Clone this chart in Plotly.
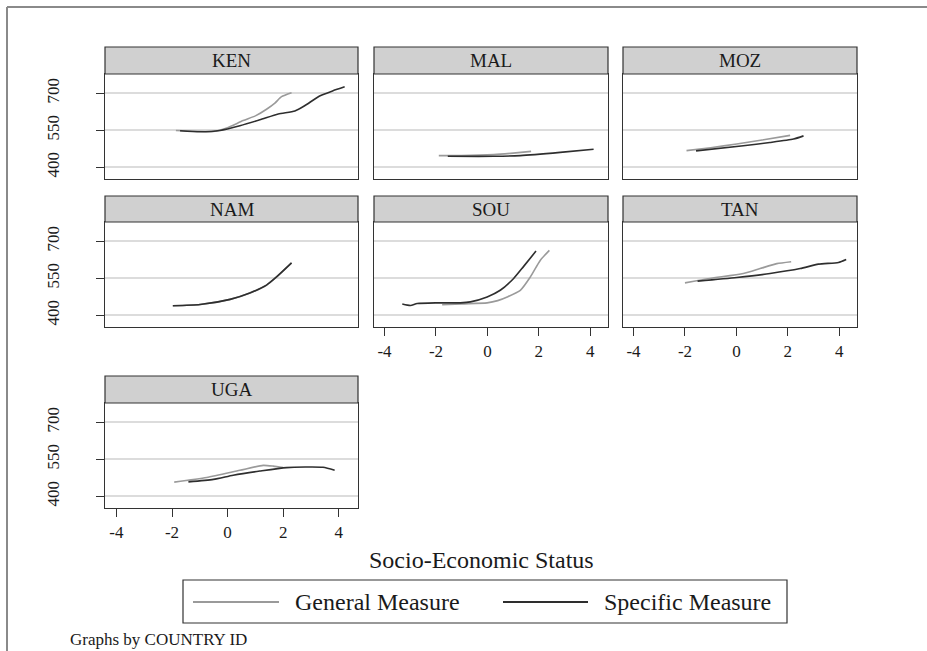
import plotly.graph_objects as go

W, H = 927, 651
FONT = "Liberation Serif"

countries = ["KEN", "MAL", "MOZ", "NAM", "SOU", "TAN", "UGA"]
series_names = ["General Measure", "Specific Measure"]
series_colors = ["#9a9a9a", "#2e2e2e"]

x_tick_vals = [-4, -2, 0, 2, 4]
x_tick_text = ["-4", "-2", "0", "2", "4"]
y_tick_vals = [400, 550, 700]
y_tick_text = ["400", "550", "700"]

# General measure (gray) per country
gen_x = {
    "KEN": [-1.86, -1.2, -0.51, -0.03, 0.56, 1.0, 1.40, 1.70, 1.94, 2.30],
    "MAL": [-1.89, -1.0, 0.25, 1.0, 1.70],
    "MOZ": [-1.94, -1.0, 0.01, 1.0, 2.09],
    "NAM": [-1.97, -0.99, 0.09, 0.80, 1.40, 1.76, 2.30],
    "SOU": [-1.76, -1.0, -0.01, 0.40, 0.77, 1.28, 1.67, 2.06, 2.41],
    "TAN": [-2.00, -1.03, 0.27, 0.92, 1.57, 2.13],
    "UGA": [-1.92, -0.75, 0.44, 1.28, 1.64, 2.00],
}
gen_y = {
    "KEN": [549, 546, 545, 559, 589, 608, 635, 660, 686, 702],
    "MAL": [447, 447, 451, 457, 464],
    "MOZ": [467, 479, 494, 510, 529],
    "NAM": [438, 443, 464, 490, 522, 555, 612],
    "SOU": [442, 446, 450, 459, 474, 501, 555, 623, 663],
    "TAN": [531, 549, 569, 589, 609, 617],
    "UGA": [457, 476, 505, 525, 522, 516],
}

# Specific measure (dark) per country
spec_x = {
    "KEN": [-1.71, -0.99, -0.27, 0.44, 1.16, 1.82, 2.42, 2.77, 3.31, 3.79, 4.21],
    "MAL": [-1.54, 0.25, 1.28, 2.83, 4.13],
    "MOZ": [-1.57, 0.27, 1.30, 2.22, 2.61],
    "NAM": [-1.97, -0.99, 0.09, 0.80, 1.40, 1.76, 2.30],
    "SOU": [-3.31, -2.99, -2.73, -1.95, -1.05, -0.66, -0.01, 0.50, 1.02, 1.41, 1.89],
    "TAN": [-1.51, 0.01, 1.31, 2.48, 3.19, 3.97, 4.27],
    "UGA": [-1.41, -0.51, 0.20, 1.16, 2.12, 3.43, 3.85],
}
spec_y = {
    "KEN": [548, 544, 549, 568, 592, 616, 628, 649, 689, 710, 726],
    "MAL": [444, 444, 447, 460, 473],
    "MOZ": [466, 487, 500, 514, 527],
    "NAM": [438, 443, 464, 490, 522, 555, 612],
    "SOU": [445, 439, 447, 450, 450, 454, 474, 501, 549, 598, 660],
    "TAN": [538, 553, 569, 589, 607, 614, 626],
    "UGA": [458, 468, 485, 502, 516, 517, 505],
}

x_range = [-4.41, 4.69]
y_range = [352, 778]

# panel geometry (pixels)
cols_px = [(105, 358), (374, 608), (623, 857)]
plot_rows_px = [(74, 179), (222, 327), (403, 508)]
head_rows_px = [(47, 74), (196, 222), (376, 403)]
panel_pos = {"KEN": (0, 0), "MAL": (0, 1), "MOZ": (0, 2),
             "NAM": (1, 0), "SOU": (1, 1), "TAN": (1, 2), "UGA": (2, 0)}
with_x_labels = {"SOU", "TAN", "UGA"}


def px_x(p):
    return p / W


def px_y(p):
    return 1 - p / H


fig = go.Figure()
layout = dict(
    width=W, height=H,
    margin=dict(l=0, r=0, t=0, b=0),
    paper_bgcolor="white", plot_bgcolor="white",
    showlegend=False,
    font=dict(family=FONT, size=17, color="#1a1a1a"),
)
shapes = []
annotations = []

for i, c in enumerate(countries):
    k = i + 1
    r, col = panel_pos[c]
    x0, x1 = cols_px[col]
    y0, y1 = plot_rows_px[r]
    hy0, hy1 = head_rows_px[r]
    xa = "x" if k == 1 else f"x{k}"
    ya = "y" if k == 1 else f"y{k}"
    show_x = c in with_x_labels
    show_y = col == 0
    layout["xaxis" if k == 1 else f"xaxis{k}"] = dict(
        domain=[px_x(x0), px_x(x1)], anchor=ya, range=x_range,
        showgrid=False, zeroline=False,
        showline=True, mirror=True, linecolor="#333333", linewidth=1.2,
        tickvals=x_tick_vals, ticktext=x_tick_text,
        ticks="outside" if show_x else "", ticklen=8, tickcolor="#333333",
        showticklabels=show_x, tickfont=dict(family=FONT, size=17, color="#1a1a1a"),
    )
    layout["yaxis" if k == 1 else f"yaxis{k}"] = dict(
        domain=[px_y(y1), px_y(y0)], anchor=xa, range=y_range,
        showgrid=True, gridcolor="#dcdcdc", gridwidth=1.6, zeroline=False,
        showline=True, mirror=True, linecolor="#333333", linewidth=1.2,
        tickvals=y_tick_vals, ticktext=y_tick_text,
        ticks="outside" if show_y else "", ticklen=8, tickcolor="#333333",
        showticklabels=show_y, tickangle=-90, ticklabelstandoff=30,
        tickfont=dict(family=FONT, size=17, color="#1a1a1a"),
    )
    for name, color, xs, ys in [
        (series_names[0], series_colors[0], gen_x[c], gen_y[c]),
        (series_names[1], series_colors[1], spec_x[c], spec_y[c]),
    ]:
        fig.add_trace(go.Scatter(
            x=xs, y=ys, mode="lines", name=name, xaxis=xa, yaxis=ya,
            line=dict(color=color, width=1.6, shape="spline", smoothing=0.6),
            showlegend=False,
        ))
    # header strip
    shapes.append(dict(type="rect", xref="paper", yref="paper",
                       x0=px_x(x0), x1=px_x(x1), y0=px_y(hy1), y1=px_y(hy0),
                       fillcolor="#d0d0d0", line=dict(color="#333333", width=1.2),
                       layer="above"))
    annotations.append(dict(text=c, xref="paper", yref="paper",
                            x=px_x((x0 + x1) / 2), y=px_y((hy0 + hy1) / 2),
                            xanchor="center", yanchor="middle", showarrow=False,
                            font=dict(family=FONT, size=19, color="#1a1a1a")))

# outer frame (top and left only)
shapes.append(dict(type="line", xref="paper", yref="paper",
                   x0=px_x(7), x1=1, y0=px_y(7), y1=px_y(7),
                   line=dict(color="#8a8a8a", width=2)))
shapes.append(dict(type="line", xref="paper", yref="paper",
                   x0=px_x(7), x1=px_x(7), y0=px_y(7), y1=0,
                   line=dict(color="#8a8a8a", width=2)))

# x axis title
annotations.append(dict(text="Socio-Economic Status", xref="paper", yref="paper",
                        x=px_x(481), y=px_y(560), xanchor="center", yanchor="middle",
                        showarrow=False, font=dict(family=FONT, size=24, color="#1a1a1a")))

# legend (box, keys, labels)
shapes.append(dict(type="rect", xref="paper", yref="paper",
                   x0=px_x(183), x1=px_x(787), y0=px_y(623), y1=px_y(580),
                   line=dict(color="#333333", width=1.2)))
legend_keys = [(193, 279, 293), (503, 588, 602)]
for (lx0, lx1, tx), name, color in zip(legend_keys, series_names, series_colors):
    shapes.append(dict(type="line", xref="paper", yref="paper",
                       x0=px_x(lx0), x1=px_x(lx1), y0=px_y(602), y1=px_y(602),
                       line=dict(color=color, width=2)))
    annotations.append(dict(text=name, xref="paper", yref="paper",
                            x=px_x(tx), y=px_y(602), xanchor="left", yanchor="middle",
                            showarrow=False, font=dict(family=FONT, size=24, color="#1a1a1a")))

# note
annotations.append(dict(text="Graphs by COUNTRY ID", xref="paper", yref="paper",
                        x=px_x(68), y=px_y(639), xanchor="left", yanchor="middle",
                        showarrow=False, font=dict(family=FONT, size=17, color="#1a1a1a")))

layout["shapes"] = shapes
layout["annotations"] = annotations
fig.update_layout(**layout)
fig.write_html("out.html")
